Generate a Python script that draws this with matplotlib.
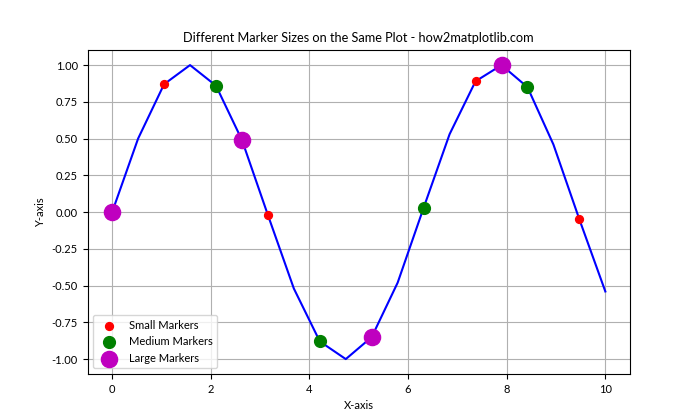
import matplotlib
matplotlib.use('Agg')
import matplotlib.pyplot as plt

plt.rcParams['font.family'] = ['Lato', 'DejaVu Sans']
plt.rcParams['font.size'] = 8
plt.rcParams['axes.titlesize'] = 9.2
plt.rcParams['axes.unicode_minus'] = False

# line through the sine-like curve
x = [0.0, 0.526, 1.053, 1.579, 2.105, 2.632, 3.158, 3.684, 4.211, 4.737,
     5.263, 5.789, 6.316, 6.842, 7.368, 7.895, 8.421, 8.947, 9.474, 10.0]
y = [0.0, 0.50, 0.87, 1.00, 0.86, 0.49, -0.02, -0.52, -0.88, -1.00,
     -0.85, -0.48, 0.03, 0.53, 0.89, 1.00, 0.85, 0.46, -0.05, -0.54]

# marker groups
small_x = [0.0, 1.053, 2.105, 3.158, 4.211, 5.263, 6.316, 7.368, 8.421, 9.474]
small_y = [0.0, 0.87, 0.86, -0.02, -0.88, -0.85, 0.03, 0.89, 0.85, -0.05]
medium_x = [0.0, 2.105, 4.211, 6.316, 8.421]
medium_y = [0.0, 0.86, -0.88, 0.03, 0.85]
large_x = [0.0, 2.632, 5.263, 7.895]
large_y = [0.0, 0.49, -0.85, 1.00]

fig, ax = plt.subplots(figsize=(7, 4.2), dpi=100)

ax.plot(x, y, color='b')
ax.scatter(small_x, small_y, s=32, c='r', label='Small Markers', zorder=3)
ax.scatter(medium_x, medium_y, s=72, c='g', label='Medium Markers', zorder=3)
ax.scatter(large_x, large_y, s=135, c='m', label='Large Markers', zorder=3)

ax.set_title('Different Marker Sizes on the Same Plot - how2matplotlib.com')
ax.set_xlabel('X-axis')
ax.set_ylabel('Y-axis')
ax.legend(loc='lower left')
ax.grid(True)

plt.savefig('out.png', dpi=100)
